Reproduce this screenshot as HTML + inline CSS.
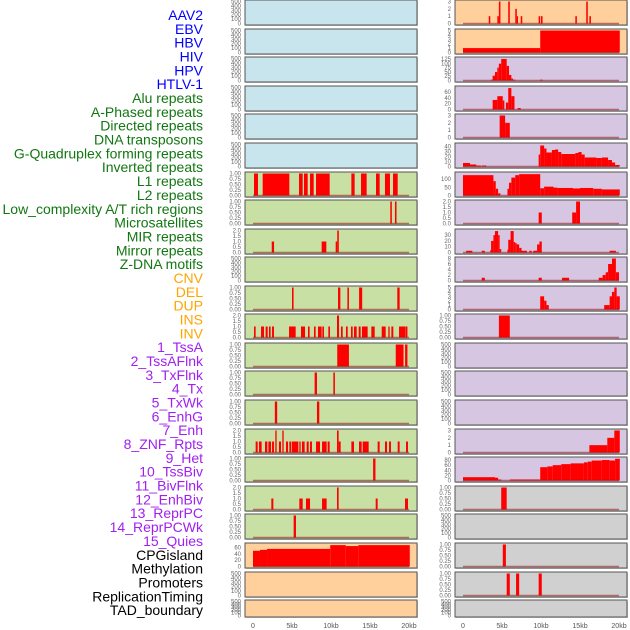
<!DOCTYPE html>
<html><head><meta charset="utf-8"><style>
html,body{margin:0;padding:0;background:#fff;}
svg{display:block;font-family:"Liberation Sans",sans-serif;}
</style></head><body>
<svg id="chart" width="630" height="630" viewBox="0 0 630 630"></svg>
<script>
// ---- data arrays: [startKb, endKb, value] ----
const trackNames = ["AAV2","EBV","HBV","HIV","HPV","HTLV-1","Alu repeats","A-Phased repeats","Directed repeats","DNA transposons","G-Quadruplex forming repeats","Inverted repeats","L1 repeats","L2 repeats","Low_complexity A/T rich regions","Microsatellites","MIR repeats","Mirror repeats","Z-DNA motifs","CNV","DEL","DUP","INS","INV","1_TssA","2_TssAFlnk","3_TxFlnk","4_Tx","5_TxWk","6_EnhG","7_Enh","8_ZNF_Rpts","9_Het","10_TssBiv","11_BivFlnk","12_EnhBiv","13_ReprPC","14_ReprPCWk","15_Quies","CPGisland","Methylation","Promoters","ReplicationTiming","TAD_boundary"];
const labelColors = ["blue","blue","blue","blue","blue","blue","#117711","#117711","#117711","#117711","#117711","#117711","#117711","#117711","#117711","#117711","#117711","#117711","#117711","orange","orange","orange","orange","orange","#a020f0","#a020f0","#a020f0","#a020f0","#a020f0","#a020f0","#a020f0","#a020f0","#a020f0","#a020f0","#a020f0","#a020f0","#a020f0","#a020f0","#a020f0","#000","#000","#000","#000","#000"];
const xTicks = [0,5,10,15,20];
const xTickLabels = ["0","5kb","10kb","15kb","20kb"];
const emptyTicks = [0,100,200,300,400,500];
const unitTicks = [0,0.25,0.5,0.75,1];
const twoTicks = [0,0.5,1,1.5,2];

const alu = [[0.13,0.64,1],[1.24,4.66,1],[5.9,6.37,1],[6.54,7.01,1],[7.31,7.78,1],[8.08,9.83,1],[12.61,13.03,1],[13.85,14.57,1],[15.77,16.24,1],[16.92,17.56,1],[17.95,18.55,1]];
const aPhased = [[17.6,17.8,1],[18.2,18.4,1]];
const directed = [[2.4,2.7,1],[8.8,9.4,1],[10.6,10.8,1],[10.8,11.0,2]];
const gQuad = [[5.0,5.2,1],[10.9,11.2,1],[12.1,12.3,1],[13.6,14.0,1],[18.5,18.8,1]];
const inverted = [[0.13,0.34,1],[1.03,1.41,1],[1.62,1.88,1],[2.05,2.26,1],[2.44,2.69,1],[4.62,5.47,1],[6.15,6.67,1],[7.05,7.26,1],[7.82,8.03,1],[8.33,8.8,1],[8.89,9.1,1],[9.66,9.87,1],[10.77,11.03,2],[11.28,11.5,1],[11.92,12.14,1],[12.56,12.78,1],[12.95,13.29,1],[13.55,13.8,1],[13.97,14.7,1],[15.17,15.6,1],[16.5,17.01,1],[17.35,17.52,1],[17.74,17.99,1],[18.72,19.57,1],[19.6,19.8,1]];
const l1 = [[10.8,12.3,1],[18.3,19.3,1],[19.5,19.8,1]];
const l2 = [[7.9,8.2,1],[10.3,10.5,1]];
const lowComplexity = [[2.8,3.1,1],[8.2,8.5,1]];
const microsat = [[0.34,0.6,1],[0.77,1.11,1],[1.54,1.84,1],[1.97,2.31,1],[2.44,2.69,1],[2.86,3.03,2],[3.33,3.59,1],[3.76,3.93,2],[4.23,4.49,1],[4.66,4.91,1],[5.0,5.81,1],[5.94,6.11,1],[6.28,6.62,1],[6.88,7.14,1],[7.31,7.56,1],[8.08,8.59,1],[8.85,9.44,1],[9.57,9.83,1],[10.77,10.98,2],[10.98,11.24,1],[12.61,12.95,1],[13.59,13.93,1],[14.06,14.83,1],[15.98,16.24,1],[16.92,17.18,1],[17.44,17.69,1],[18.55,18.8,1],[19.62,19.87,1]];
const mir = [[15.4,15.7,1]];
const mirror = [[2.35,2.61,1],[5.94,6.37,1],[6.79,7.31,1],[8.85,9.44,1],[10.77,10.98,2],[15.73,15.98,1],[19.49,19.87,1]];
const zdna = [[5.21,5.51,1]];
const cnv = [[0,0.9,50],[0.9,1.8,53],[1.8,9.9,56],[9.9,11.9,68],[11.9,13.5,65],[13.5,20.1,68]];
const ins = [[3.3,3.5,1],[4.4,4.6,1],[4.6,4.8,3],[5.8,6.0,3],[6.7,6.9,2],[6.9,7.05,1],[7.4,7.6,1],[9.7,9.9,1],[10.0,10.2,1],[14.4,14.6,1],[15.8,16.0,3],[16.2,16.4,1]];
const inv = [[0,9.9,1],[9.9,20.1,5]];
const tssA = [[3.6,3.8,5],[3.8,4.1,28],[4.1,4.4,49],[4.4,4.6,75],[4.6,4.9,98],[4.9,5.6,125],[5.6,5.9,85],[5.9,6.2,32],[6.2,6.4,12],[6.4,6.7,5],[9.9,10.2,5]];
const tssAFlnk = [[3.8,4.4,33],[4.4,5.1,46],[5.1,5.3,31],[5.5,5.8,24],[5.8,6.2,74],[6.2,6.6,46],[7.0,7.4,5]];
const txFlnk = [[4.7,5.4,3],[5.4,6.0,2]];
const tx = [[0,0.9,7],[0.9,1.7,4],[1.7,2.3,2],[2.4,3.0,2],[9.7,9.9,24],[9.9,10.4,42],[10.4,10.7,36],[10.7,11.4,28],[11.4,11.8,33],[11.8,12.2,34],[12.2,12.6,29],[12.6,14.4,25],[14.4,14.8,27],[14.8,15.2,29],[15.2,15.6,24],[15.6,17.1,18],[17.1,17.8,17],[17.8,18.6,18],[18.6,19.1,13],[19.1,19.5,8],[19.5,20.1,3]];
const txWk = [[0,3.9,124],[3.9,4.2,87],[4.2,4.5,41],[4.5,4.8,13],[5.7,5.9,41],[5.9,6.2,78],[6.2,6.7,109],[6.7,7.2,124],[7.2,9.9,130],[9.9,10.4,44],[10.4,11.6,54],[11.6,12.1,48],[12.1,14.1,46],[14.1,15.0,43],[15.0,16.7,46],[16.7,17.8,41],[17.8,20.1,37]];
const enhG = [[9.7,10.1,1],[14.0,14.5,1],[14.5,15.0,2]];
const enh = [[0.4,1.2,3],[2.4,2.8,3],[3.5,3.6,4],[3.6,3.9,20],[3.9,4.1,30],[4.1,4.5,37],[4.5,4.7,30],[4.7,4.9,6],[5.7,5.8,5],[5.8,6.1,22],[6.1,6.5,37],[6.5,6.7,18],[6.7,6.9,16],[6.9,7.2,14],[7.2,7.5,8],[7.5,8.2,3],[8.5,8.8,3],[9.0,9.5,3],[9.5,9.8,14],[9.8,10.1,19],[18.8,19.6,3]];
const znf = [[2.4,2.8,1],[9.7,10.1,1],[12.7,13.6,1],[17.4,17.9,1],[17.9,18.3,2],[18.3,18.6,3],[18.6,19.1,6],[19.1,19.6,8],[19.6,20.0,3]];
const het = [[9.9,10.4,3],[10.4,10.7,2],[10.7,11.0,1],[18.1,18.8,1],[18.8,19.1,3],[19.1,19.4,4],[19.4,19.7,5],[19.7,20.1,3]];
const tssBiv = [[4.6,6.0,1]];
const reprPCWk = [[16.2,18.5,1],[18.5,19.4,2],[19.4,20.1,3]];
const quies = [[0,4.1,13],[4.1,4.5,11],[4.5,4.9,4],[6.0,9.9,4],[9.9,10.8,52],[10.8,11.5,55],[11.5,12.6,60],[12.6,13.8,64],[13.8,15.5,67],[15.5,16.0,71],[16.0,16.5,74],[16.5,17.8,78],[17.8,18.8,80],[18.8,19.5,78],[19.5,20.1,85]];
const cpg = [[4.9,5.6,1]];
const promoters = [[5.1,5.5,1]];
const replTiming = [[5.6,6.0,1],[6.8,7.2,1],[9.7,10.1,1]];

// per-track: [segments, ticks, ymax, background]
const BL="#c8e4ec",GR="#c8e0a4",OR="#ffd09c",PU="#d7c6e2",GY="#d0d0d0";
const tracks = [
 [[],emptyTicks,500,BL],[[],emptyTicks,500,BL],[[],emptyTicks,500,BL],[[],emptyTicks,500,BL],[[],emptyTicks,500,BL],[[],emptyTicks,500,BL],
 [alu,unitTicks,1,GR],[aPhased,unitTicks,1,GR],[directed,twoTicks,2,GR],[[],emptyTicks,500,GR],[gQuad,unitTicks,1,GR],[inverted,twoTicks,2,GR],
 [l1,unitTicks,1,GR],[l2,unitTicks,1,GR],[lowComplexity,unitTicks,1,GR],[microsat,twoTicks,2,GR],[mir,unitTicks,1,GR],[mirror,twoTicks,2,GR],[zdna,unitTicks,1,GR],
 [cnv,[0,20,40,60],70,OR],[[],emptyTicks,500,OR],[[],emptyTicks,500,OR],
 [ins,[0,1,2,3],3,OR],[inv,[0,1,2,3,4,5],5,OR],
 [tssA,[0,25,50,75,100,125],128,PU],[tssAFlnk,[0,20,40,60],76,PU],[txFlnk,[0,1,2,3],3,PU],[tx,[0,10,20,30,40],44,PU],[txWk,[0,50,100],134,PU],
 [enhG,twoTicks,2,PU],[enh,[0,10,20,30],38,PU],[znf,[0,2,4,6,8],8,PU],[het,[0,1,2,3,4,5],5,PU],[tssBiv,unitTicks,1,PU],
 [[],emptyTicks,500,PU],[[],emptyTicks,500,PU],[[],emptyTicks,500,PU],[reprPCWk,[0,1,2,3],3,PU],[quies,[0,20,40,60,80],86,PU],
 [cpg,unitTicks,1,GY],[[],emptyTicks,500,GY],[promoters,unitTicks,1,GY],[replTiming,unitTicks,1,GY],[[],emptyTicks,500,GY]
];

const svg = document.getElementById('chart');
const NS = 'http://www.w3.org/2000/svg';
function mk(tag, attrs, parent){const e=document.createElementNS(NS,tag);for(const k in attrs)e.setAttribute(k,attrs[k]);(parent||svg).appendChild(e);return e;}
function slug(s){return s.toLowerCase().replace(/[^a-z0-9]+/g,'-').replace(/^-|-$/g,'');}
function fmtTick(v,ticks){if(ticks===unitTicks)return v.toFixed(2);if(ticks===twoTicks)return v.toFixed(1);return String(v);}

// labels
trackNames.forEach((name,i)=>{
  const t = mk('text',{x:203,y:20+i*13.84,'text-anchor':'end','font-size':'14',fill:labelColors[i]});
  t.textContent = name;
  
  
});

const rowTops=[0,29,57,86,114,143,172,200,229,257,286,314,343,371,400,429,457,486,514,543,572,600];
tracks.forEach((tr,i)=>{
  const col = i<22?0:1, row = i%22;
  const left = col===0?245:455, w=172;
  const x0 = col===0?253:463, pxPerKb = 7.8;
  const xs = kb => x0 + kb*pxPerKb;
  const top = rowTops[row], h = row===21?17:25;
  const [segs,ticks,ymax,bg] = tr;
  const y0 = top+h-1.5, sc=(h-3)/ymax;
  const ys = v => y0 - v*sc;
  const g = mk('g',{});
  
  
  mk('rect',{x:left+1,y:top+1,width:w,height:h,fill:'#999',opacity:0.5},g);
  const bgr = mk('rect',{x:left,y:top,width:w,height:h,fill:bg},g);
  
  
  segs.forEach(s=>{
    const r = mk('rect',{x:xs(s[0]),y:ys(s[2]),width:Math.max(1.2,xs(s[1])-xs(s[0])),height:y0-ys(s[2]),fill:'#ff0000'},g);
    
    
  });
  if (segs.length) {
    const bl = mk('line',{x1:xs(0),x2:xs(20),y1:y0,y2:y0,stroke:'rgba(150,20,20,0.55)','stroke-width':1.5},g);
    
    
  }
  mk('rect',{x:left,y:top,width:w,height:h,fill:'none',stroke:'#555','stroke-width':1},g);
  ticks.forEach(v=>{
    const t = mk('text',{x:left-4,y:ys(v)+2,'text-anchor':'end','font-size':'6',fill:'#666'},g);
    t.textContent = fmtTick(v,ticks);
    
    
  });
});
// x axes
[253,463].forEach((x0,c)=>{
  xTicks.forEach((kb,j)=>{
    const t = mk('text',{x:x0+kb*7.8,y:628,'text-anchor':'middle','font-size':'7',fill:'#555'});
    t.textContent = xTickLabels[j];
    
    
  });
});
</script>
</body></html>
